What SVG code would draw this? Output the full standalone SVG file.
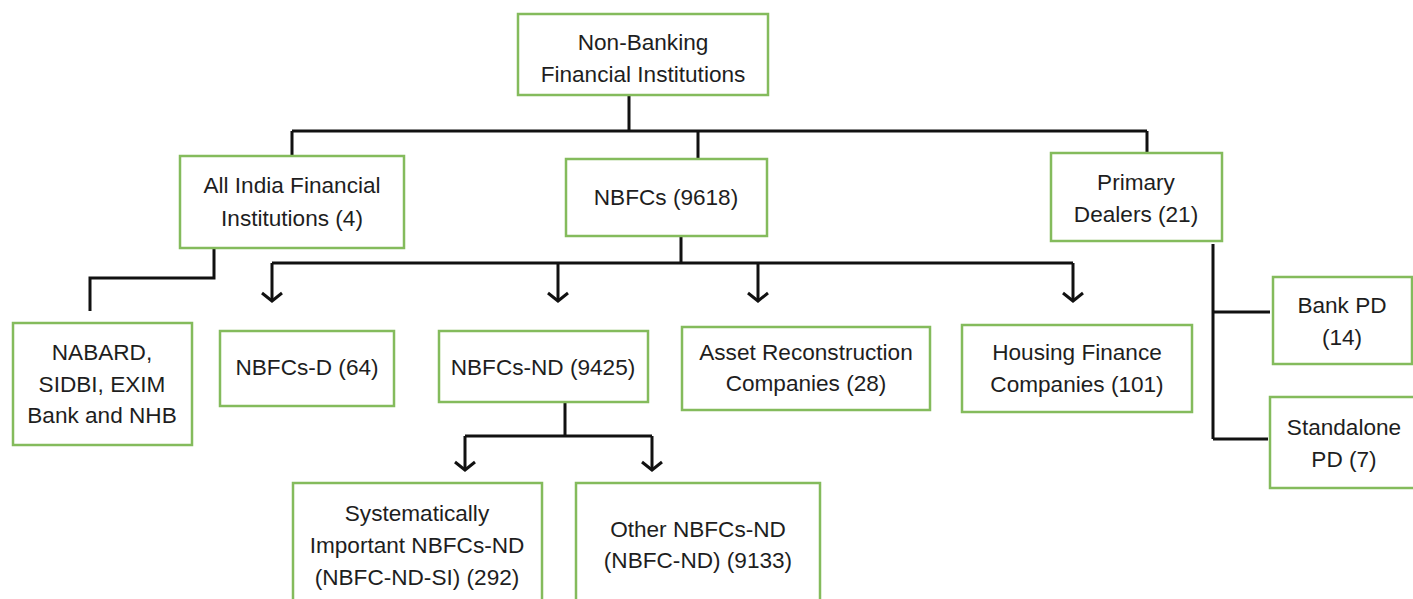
<svg xmlns="http://www.w3.org/2000/svg" width="1413" height="599" viewBox="0 0 1413 599">
<style>
.box{fill:#fff;stroke:#84bb5c;stroke-width:2.5}
.t{font-family:"Liberation Sans",Arial,sans-serif;font-size:22.6px;fill:#1e1e1e;text-anchor:middle}
.c{fill:none;stroke:#111;stroke-width:3}
.a{marker-end:url(#arr)}
</style>
<defs>
<marker id="arr" markerUnits="userSpaceOnUse" markerWidth="26" markerHeight="26" viewBox="-13 -13 26 26" refX="0" refY="0" orient="auto">
<path d="M-8,-10 L0,0 L-8,10" fill="none" stroke="#111" stroke-width="3"/>
</marker>
</defs>
<rect width="1413" height="599" fill="#fff"/>
<g id="connectors">
<path class="c" d="M629,95 V131 M292,131 H1147 M292,131 V156 M698,131 V159 M1147,131 V152"/>
<path class="c" d="M214,248 V278 H90 V311"/>
<path class="c" d="M681,236 V263 M272,263 H1073"/>
<path class="c a" d="M272,263 V301"/>
<path class="c a" d="M558,263 V301"/>
<path class="c a" d="M758,263 V301"/>
<path class="c a" d="M1073,263 V301"/>
<path class="c" d="M565,402 V436 M465,436 H652"/>
<path class="c a" d="M465,436 V470"/>
<path class="c a" d="M652,436 V470"/>
<path class="c" d="M1213,244 V439 M1213,312 H1270 M1213,439 H1268"/>
</g>
<g id="nbfi"><rect class="box" x="518" y="14" width="250" height="81"/><text class="t" x="643" y="50">Non-Banking</text><text class="t" x="643" y="82">Financial Institutions</text></g>
<g id="aifi"><rect class="box" x="180" y="156" width="224" height="92"/><text class="t" x="292" y="193">All India Financial</text><text class="t" x="292" y="226">Institutions (4)</text></g>
<g id="nbfcs"><rect class="box" x="566" y="159" width="201" height="77"/><text class="t" x="666" y="205">NBFCs (9618)</text></g>
<g id="pd"><rect class="box" x="1051" y="153" width="171" height="88"/><text class="t" x="1136" y="190">Primary</text><text class="t" x="1136" y="222">Dealers (21)</text></g>
<g id="nabard"><rect class="box" x="13" y="323" width="179" height="122"/><text class="t" x="102" y="360">NABARD,</text><text class="t" x="102" y="392">SIDBI, EXIM</text><text class="t" x="102" y="423">Bank and NHB</text></g>
<g id="nbfcsd"><rect class="box" x="220" y="331" width="174" height="75"/><text class="t" x="307" y="375">NBFCs-D (64)</text></g>
<g id="nbfcsnd"><rect class="box" x="439" y="331" width="209" height="71"/><text class="t" x="543" y="375">NBFCs-ND (9425)</text></g>
<g id="arc"><rect class="box" x="682" y="327" width="248" height="83"/><text class="t" x="806" y="360">Asset Reconstruction</text><text class="t" x="806" y="391">Companies (28)</text></g>
<g id="hfc"><rect class="box" x="962" y="325" width="230" height="87"/><text class="t" x="1077" y="360">Housing Finance</text><text class="t" x="1077" y="392">Companies (101)</text></g>
<g id="bankpd"><rect class="box" x="1273" y="277" width="139" height="87"/><text class="t" x="1342" y="313">Bank PD</text><text class="t" x="1342" y="345">(14)</text></g>
<g id="standalone"><rect class="box" x="1270" y="397" width="150" height="91"/><text class="t" x="1344" y="435">Standalone</text><text class="t" x="1344" y="467">PD (7)</text></g>
<g id="si"><rect class="box" x="293" y="483" width="249" height="130"/><text class="t" x="417" y="521">Systematically</text><text class="t" x="417" y="553">Important NBFCs-ND</text><text class="t" x="417" y="585">(NBFC-ND-SI) (292)</text></g>
<g id="other"><rect class="box" x="576" y="483" width="244" height="130"/><text class="t" x="698" y="537">Other NBFCs-ND</text><text class="t" x="698" y="568">(NBFC-ND) (9133)</text></g>
</svg>
